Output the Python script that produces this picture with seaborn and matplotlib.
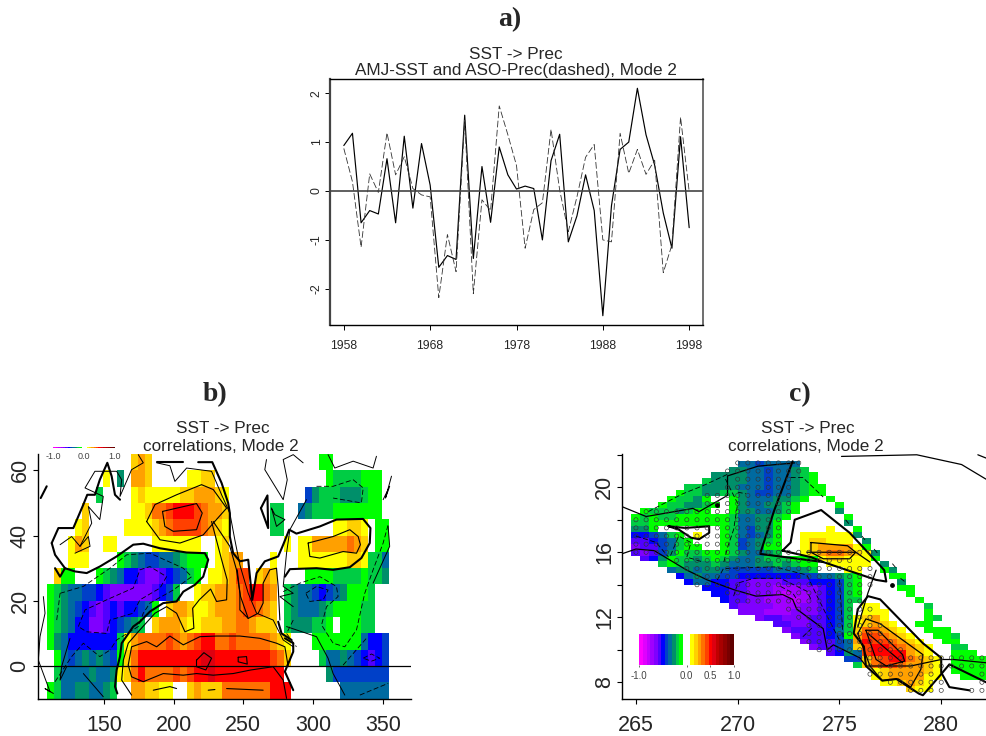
import numpy as np, pandas as pd
import matplotlib
matplotlib.use("Agg")
import matplotlib.pyplot as plt
from matplotlib.colors import ListedColormap
import seaborn as sns

# ---------- panel a ----------
YEARS = list(range(1958, 1999))
SST = [0.93,1.18,-0.65,-0.40,-0.47,0.66,-0.65,1.12,-0.35,0.97,0.12,-1.56,-1.32,-1.40,1.55,-1.38,0.50,-0.64,
       0.90,0.33,0.04,0.10,0.05,-1.0,0.62,1.16,-1.04,-0.51,0.33,-0.40,-2.55,-0.30,0.85,1.0,2.10,1.15,0.53,
       -0.45,-1.17,1.11,-0.75]
PREC = [0.87,0.19,-1.15,0.35,-0.03,1.19,0.33,0.70,0.05,-0.08,-0.12,-2.18,-0.89,-1.65,1.45,-2.10,-0.18,-0.40,
        1.74,1.15,0.52,-1.17,-0.38,-0.24,1.26,0.02,-0.83,-0.12,0.69,0.95,-1.0,-1.04,1.18,0.36,0.85,0.34,0.63,
        -1.67,-1.10,1.51,-0.01]

# ---------- colour levels ----------
LEVEL_COLORS = ["#ff00ff","#e000ff","#c000ff","#a000ff","#8000ff","#5000ff","#0000ff","#0040c8","#006aa0",
                "#008f6a","#00cc44","#00ff00","#ffffff","#ffffff","#ffff00","#ffd000","#ffa000","#ff7000",
                "#ff4000","#ff0000","#dd0010","#c00000","#a80000","#900000","#780000","#600000"]
LEVEL_CODES = {"m":0,"M":1,"n":2,"q":3,"p":4,"v":5,"b":6,"d":7,"t":8,"i":9,"h":10,"g":11,
               "y":14,"Y":15,"o":16,"O":17,"r":18,"R":19,"D":20}

# ---------- panel b: correlation per 5-degree cell, north to south ----------
B_ROWS = [
 [(12,"YoY"),(39,"gg")],
 [(8,"y"),(10,"i"),(12,"ooY"),(20,"yyYY"),(40,"ghhhhggg")],
 [(7,"h"),(12,"yYyyyyyYYooo"),(24,"Yy"),(37,"dihhhiiihgg")],
 [(5,"Y"),(12,"yyYOOrRRRrOooY"),(32,"hh"),(36,"tihhhggggggg")],
 [(4,"yY"),(11,"yyyyYoOrrrrOoYy"),(32,"hh"),(41,"yyYYy"),(47,"gg")],
 [(3,"yoY"),(8,"yy"),(15,"yyyyyyy"),(24,"yY"),(34,"y"),(36,"yyoooooOoY"),(47,"gg")],
 [(3,"yyy"),(10,"ghitddttihggg"),(24,"yYoo"),(32,"y"),(36,"yyyyyyyYYy"),(46,"hht")],
 [(1,"Ygg"),(7,"ghitbbvppvbdthg"),(23,"yyYorr"),(30,"YoY"),(37,"gggghhhhghhi")],
 [(0,"ghittddbvppppppvbdh"),(21,"yYYoooOrRROo"),(34,"hittdbdtigggh")],
 [(0,"ghitdbvpvbvbbdtg"),(17,"YooYyyYoooOrrOoY"),(34,"hitttihgggghh")],
 [(0,"ghitbbppvbdtih"),(15,"YoooYyyYYYooOOoYYY"),(34,"hiiihhg"),(42,"ggghh")],
 [(0,"gitbbbbbbbhy"),(12,"oOOOOrOoOrRROOrOOOOOoYy"),(38,"ggggggg"),(45,"tbbd")],
 [(1,"gtdtititdgY"),(12,"ORRRRRRRRRDDRRRRRRRRrOY"),(39,"httitdbvbd")],
 [(1,"httttittiyY"),(12,"OROOOOrOrRRDRRRRRRRRRR"),(40,"idddddddd")],
 [(0,"ghttiittih"),(12,"ooYYyy"),(20,"YoYYYOOOOOOORRR"),(42,"ttttttt")],
]
B_NCOLS = 49

# ---------- panel c: correlation per fine cell, north to south ----------
C_ROWS = [
 [(12,"ttdtttt")],[(11,"iittdttih")],[(9,"iiiittdttihg")],[(8,"hiiiittdttihg")],
 [(6,"hhiiiitttdttihgg")],[(5,"ghhiihhitddttihg"),(21,"g")],
 [(4,"ghhig"),(11,"gitttiihg"),(22,"g")],[(3,"ghhiihg"),(11,"gittiihg"),(23,"g")],
 [(1,"ghhhihgg"),(11,"giittihg"),(23,"i")],[(0,"ghghhggggg"),(10,"ghttiihg"),(24,"g")],
 [(0,"hhgggggggg"),(10,"ghttiig"),(24,"i")],[(0,"iig"),(10,"ghtdiig"),(22,"y"),(25,"g")],
 [(0,"bbdthg"),(7,"y"),(10,"ghtdtig"),(19,"yyyyyy"),(25,"i")],
 [(0,"vvbdthg"),(10,"ghdtihg"),(19,"yYYyyy"),(26,"i")],
 [(0,"pvvdthgg"),(10,"ghdtigg"),(19,"yYoooo"),(25,"y"),(26,"g")],
 [(0,"vpvdighhggghittih"),(19,"yYoOOoYy"),(27,"i")],
 [(1,"vbighhihghittihhhggg"),(21,"yYYyyy"),(27,"g")],
 [(3,"hghiiihitttiihihgg"),(22,"yyyyy"),(28,"i")],
 [(4,"tiitiitdddddtttih"),(24,"yy"),(28,"g"),(29,"i")],
 [(5,"btittddbbbbbbbddttihg"),(29,"gg")],
 [(6,"bttbbvvppppvvvbbbdhg"),(30,"i")],
 [(8,"bbbvvpppqqqppvbdhg"),(30,"gg")],
 [(9,"bbvvpppqnqqpvbdhg"),(31,"g")],
 [(10,"bvvppqqqnqpvbdhh"),(32,"g")],
 [(11,"vppppqqqppvbdh"),(26,"yy"),(33,"h")],
 [(12,"pppqqqpppvbdh"),(26,"yyy"),(33,"g")],
 [(14,"pvvpppvvbdh"),(25,"yYoy"),(33,"gh")],
 [(16,"vvppvvbdh"),(25,"yYoYy"),(32,"gg")],
 [(17,"pvvvvbth"),(25,"YOOoYy"),(33,"ggg")],
 [(18,"pvvvbdg"),(25,"orrOoYy"),(34,"ggh")],
 [(19,"pvvvdt"),(25,"oRrrOoYy"),(35,"gg")],
 [(20,"pvvdt"),(25,"YrRRrOoYy"),(36,"hh")],
 [(22,"vbi"),(25,"trRRRRoYy"),(36,"ggg")],
 [(24,"dd"),(26,"YOrRROoYy"),(36,"gggg")],
 [(25,"h"),(26,"YOrrOooYy"),(36,"gggg")],
 [(27,"yYooooYy"),(36,"gggg")],
 [(27,"yYooooyy"),(37,"ggg")],
 [(28,"yyYoYy")],
 [(31,"Yyy")],
]
C_NCOLS = 40

# significance circles: latitude, first and last longitude of each run
CIRCLE_RUNS = [(21.5,270,273),(21,269.5,273),(20.5,270,272.5),(20,269.5,272.5),(19.5,268.5,272.5),(19,268.5,272.5),
 (18.5,265.5,272.5),(18,265,272),(17.5,265,272),(17,265,272),(16.5,265,272),(16,265,276.5),(15.5,267,275.5),
 (15,267.5,276.5),(14.5,268,276.5),(14,268,276.5),(13.5,269.5,276),(13,270,276),(12.5,272.5,276.5),(12,273,276.5),
 (11.5,273.5,277),(11,273.5,277),(10.5,273.5,277.5),(10,274,278),(9.5,276,282),(9,276.5,282),(8.5,276.5,279.5),
 (8.5,282,282),(8,277.5,279.5),(8,280,280),(8,282,282),(7.5,278.5,279.5),(7.5,280,280),(7.5,281.5,282)]

# ---------- panel b lines (lon, lat) ----------
B_THICK = [
 [(112.5,37.7),(117.3,42.3),(128,42.3),(135.2,49.5),(138,52.5),(143.5,52.5),(147,57.1),(152.4,62.3),(155.5,58.2),(157.9,52.5),(161.5,51)],
 [(112.5,37.7),(114.9,34.1),(122,30),(129.2,29),(137.6,28.5),(147,30.5),(159.1,33.6),(171,37.2),(178.2,37.5),(190.2,36.1),(209.3,34.8),(222.4,34.6),(224.8,32.6),(221.2,27.4),(215.2,24.9),(206.9,22.8),(202.1,19.8),(192.5,19.3),(183,16.7),(175.8,13.6),(171,12.1),(162.7,7),(161.5,2.9),(159.1,-1.2),(157.9,-6.3),(159.6,-8.4)],
 [(114.9,30),(118.5,27.4),(122,30)],
 [(187.8,62.5),(206.9,62.5)],
 [(217.6,62.5),(227.7,62.5),(234.4,56.1),(239.1,50),(240.3,46.9),(240.3,39.7),(242.7,34.6),(247.5,32.1),(253.5,32.6),(256.4,20.3),(259.5,28.5),(265.4,32.1),(275,33.6),(278.6,37.2),(282.9,41.8),(288.1,40.6),(304.9,42.8),(316.8,44.9),(335.9,45.1),(341.2,42.3),(340.7,37.7),(334.7,33.1),(326.4,30.3),(314.4,29.5),(302.5,30),(283.4,29.7),(279.8,27.4)],
 [(262.6,48.4),(267.3,52.3),(267.8,42.3),(262.6,48.4)],
 [(279.8,8.5),(285.8,7),(285.8,4.4),(279.8,-1.7),(285.8,-7.4)],
 [(275,13.6),(277.4,10),(284.6,8)],
 [(104.6,51.5),(108.9,55.1)],
]
B_SOLID = [
 [(180.6,44.3),(186.6,49.5),(202.1,52.5),(220,55.6),(228.4,54.1),(238,48.4),(228.4,43.8),(221.2,40.2),(204.5,37.7),(190.2,38.7),(180.6,44.3)],
 [(192,47.4),(216.4,49.8),(220.5,46.9),(216.4,41.8),(199.7,41.3),(193.7,42.8),(192,47.4)],
 [(227.2,44.3),(234.4,32.6),(238.4,26.4),(238,20.3),(230.8,19.8),(226.5,23.6),(218.4,20.3),(213.6,17.7),(214.5,11.6),(208.1,10.5),(202.1,16.2),(194.9,18.2),(186.6,16.2),(175.8,11.1),(167.4,7),(163.9,1.8),(162.7,-4.3),(169.8,-8.9)],
 [(228.4,44.3),(240.3,36.7),(245.1,29.5),(248,21.3),(253.5,14.6)],
 [(167.4,0.3),(169.8,5.9),(180.6,7.5),(187.8,5.9),(197.3,9.2),(206.9,6.5),(218.8,9),(230.8,9.2),(247.5,9.2),(261.9,8.5),(273.8,7),(279.8,5.9),(282.2,-0.2)],
 [(167.4,0.3),(169.8,-3.3),(178.2,-4.8),(192.5,-2.3),(206.9,-2.8),(216.4,-2.3),(228.4,-2.8),(242.7,-2.3),(255.4,-1.2),(271.4,-0.2),(278.6,-4.3),(281,-9.9)],
 [(216.4,1.8),(221.7,4.1),(227.2,2.4),(223.1,-1.2),(216.4,-0.2),(216.4,1.8)],
 [(246.3,2.7),(252.3,2.9),(252.8,0.6),(246.3,1.3),(246.3,2.7)],
 [(185.4,-7.4),(197.3,-6.3),(202.1,-6.9)],[(224.8,-7.4),(229.6,-7.2)],[(238,-6.9),(264.2,-7.4)],
 [(245.6,29.5),(247.5,22.3),(247.5,17.2),(253.5,14.6),(260.7,16.2),(264.2,19.3),(264.2,25.4),(269,29.5),(273.8,30),(275,24.4),(276.2,14.1)],
 [(296.5,37.7),(314.4,39.7),(326.4,41.8),(332.4,39.7),(334,37.2),(331.2,34.6),(321.6,35.1),(304.9,33.1),(297.7,33.6),(296.5,37.7)],
]
B_DASHED = [
 [(131.6,12.1),(136.4,17.2),(151.9,20.3),(171,23.9),(175.8,29.5),(183,30.5),(194.9,27.4),(190.2,23.9),(175.8,20.3),(171,16.2),(154.3,14.1),(151.9,10),(137.6,10.5),(131.6,12.1)],
 [(118.5,22.3),(135.2,24.4),(154.3,30),(166.3,34.1),(183,34.6),(206.9,30),(212.9,27.4),(199.7,23.3),(183,19.3),(178.2,16.2),(174.6,12.1),(159.1,8),(154.3,4.9)],
 [(116.1,14.1),(118.5,22.3)],
 [(114.9,-4.8),(126.8,2.9),(135.2,7),(147,2.9),(154.3,4.9)],
 [(278.6,22.8),(290.5,25.4),(304.9,27.4),(316.8,24.4),(318,21.3),(309.7,18.2),(306.1,12.6),(314.4,7),(322.8,5.9),(331.2,11.1),(337.1,22.3),(343.1,29.5),(350.3,37.7),(353.9,43.3)],
 [(294.8,22.3),(302.5,24.4),(310.8,23.3),(307.3,20.3),(297.7,19.8),(294.8,22.3)],
 [(285.8,14.1),(281,10),(288.1,5.9)],
 [(302.5,55.1),(314.4,55.1),(328.8,57.1),(336,54.6),(334.7,50),(314.4,51.5)],
 [(336,2.4),(341.9,3.7),(347.9,2.4),(341.9,1.5),(336,2.4)],
 [(333.6,-8.9),(353.9,-5.3)],
 [(321.6,0.3),(338.3,8.5)],
]
B_COAST = [
 [(118.5,37.2),(126.8,39.7),(132.8,36.7),(141.2,43.8),(138.8,48.9),(147,44.9),(149.5,52),(136.4,54.6),(143.5,59.7),(159.1,59.7),(162.7,57.1),(161.5,52),(169.8,60.2),(178.2,62.3),(174.6,64.8)],
 [(129.2,34.6),(140,36.7),(138.8,39.7),(132.8,36.7)],
 [(187.8,62.3),(197.3,61.4),(200.9,56.6),(209.3,60.7),(227.2,59.7),(234.4,52.5),(240.3,46.9),(243.9,38.7),(247.5,31),(253.5,22.3),(259.5,16.2),(271.4,14.1),(278.6,8),(285.8,5.9)],
 [(266.6,63.3),(265.4,60.2),(278.6,51),(281.5,57.1),(278.6,63.3),(285.8,64.8),(292.9,62.3)],
 [(270.2,48.4),(273.8,42.8),(279.8,44.9),(272.6,46.4),(270.2,48.4)],
 [(295.3,51),(283.4,41.8),(281,34.6),(278.6,24.4),(285.8,22.3),(276.2,21.3),(285.8,18.2)],
 [(310.8,64.8),(315.6,60.7),(328.8,62.8),(343.1,60.7),(345.5,64.3)],
 [(281,12.1),(302.5,9),(310.8,2.4),(314.4,-2.3),(322.8,-8.9)],
 [(353.9,42.8),(355,36.7),(343.1,25.4)],
 [(350.3,51),(355,55.1),(352,51.5),(356.3,58.2)],
 [(106.5,21.3),(107.7,16.2),(104.1,9),(102.9,1.8),(111.3,-7.9),(107.7,-6.9),(113.7,-8.4)],
 [(123.2,-0.2),(118.5,-4.3),(119.6,-0.2),(125.6,8.5)],
 [(135.2,-2.3),(149.5,-9.4)],
]

# ---------- panel c lines (lon, lat) ----------
C_THICK = [
 [(272.2,16.1),(272.6,16.6),(272.8,18),(274.1,18.6),(275.5,17.2),(277.2,14.9),(277.3,14.2),(276.8,14.3),(274.2,15.4),(273.6,15.7),(272.2,16.1)],
 [(272.7,21.6),(271.8,18.6),(271.1,15.9),(274.2,15.4)],
 [(275.9,12.5),(276.4,13.3),(277,13.1),(279.1,10.4),(280,9.5),(280,8.6),(280.4,7.7),(281.4,7.5)],
 [(275.9,12.5),(275.7,11),(276.2,10.2),(276.3,9),(277.1,8.1),(277.8,8.2),(278.9,7.3),(279.1,7.2),(280,8.5),(280.4,9.1),(282.2,8)],
 [(266.6,17.6),(267.4,17.5),(268.6,17.6),(268.6,17.2),(268.1,16.8),(267.7,16.9),(267.1,17.4),(266.6,17.6)],
]
C_SOLID = [
 [(264.33,18.8),(265.5,18.2),(267.8,18.7),(268.1,18.5),(269.5,19.5),(269.5,20.7),(271,21.3),(272.8,21.5)],
 [(264.3,15.9),(265,16.2),(265.9,16.1),(266.7,15.5),(267.5,14.9),(268.5,14.3),(269.8,13.7),(270.9,13.3),(272.2,13.4),(272.7,13.1),(272.9,12.5),(274.2,11.3),(274.4,10),(274.7,10.3),(276,9.5),(276.3,9),(278.5,9),(280,9.4),(280.6,9.4),(282.2,9.2)],
 [(275.1,21.9),(278.8,22),(281,21.4),(282.2,20.5)],
 [(281.8,22),(282.2,21.8)],
 [(276.8,14.9),(276.4,13.5),(275.9,11.4)],
 [(273.6,16.6),(275.4,16.4),(275.8,16),(275.5,15.6),(274.2,15.6),(273.6,16),(273.6,16.6)],
 [(273.4,16),(275.8,16),(276.5,15.4)],
 [(275.9,11),(276.3,11.9),(277,11.6),(279.1,9.7),(279,8.8),(278.5,7.7),(277.9,8.2),(277.1,8.1),(276.5,9),(275.9,11)],
 [(276.3,11.2),(276.9,11.2),(278.1,9.7),(278.2,9.3),(277.3,9),(276.8,9.4),(276.3,11.2)],
 [(276.4,11),(278.1,9.2)],
]
C_DASHED = [
 [(265.6,18.5),(267.3,19.6),(268.3,20.1),(269.5,20.8)],
 [(272.6,20.6),(273.2,20.6),(274.2,19.4)],
 [(269.4,20.5),(270,19),(269.8,17.4),(269.5,16.3),(269.3,15.3)],
 [(269,14.3),(269.3,15),(271.8,15.1),(273.4,14.6),(273.9,13.3),(274.5,11.8),(275,10.6)],
 [(269.8,13.3),(270,14.1),(270.8,14.4),(272.1,14.4),(273.4,13.6),(273.6,13.1)],
 [(272.1,13.9),(272.7,13.5),(272.9,13.1)],
 [(273.2,10.8),(273.7,11.4)],
 [(275,14.3),(275.1,12.3),(275.2,10.4)],
 [(266.7,15.8),(267.1,17),(267.7,16.6),(267.5,15.7),(268.3,15.4)],
 [(265,17),(266,16.6),(266.6,15.7)],
 [(270,19.7),(270.4,19.6)],
 [(275.3,18),(275.5,17.7)],[(276.1,17),(276.3,16.7)],[(276.7,16.2),(276.9,15.9)],[(277.6,15.3),(277.8,15)],[(278,14.4),(278.2,14.2)],
]
C_DOTS = [(277.6,14),(269,18.9)]

TICKS_A_X = [1958,1968,1978,1988,1998]
TICKS_A_Y = [-2,-1,0,1,2]
TICKS_B_X = [150,200,250,300,350]
TICKS_B_Y = [0,20,40,60]
TICKS_C_X = [265,270,275,280]
TICKS_C_Y = [8,10,12,14,16,18,20,22]
LABELS_C_Y = ["8","","12","","16","","20",""]

# ---------- build ----------
W, H = 986, 736
sns.set_style("white")
plt.rcParams["font.family"] = ["Liberation Sans", "DejaVu Sans"]
plt.rcParams["xtick.direction"] = "out"
plt.rcParams["ytick.direction"] = "out"
plt.rcParams["axes.unicode_minus"] = False
cmap = ListedColormap(LEVEL_COLORS)
nlev = len(LEVEL_COLORS)

def px_axes(l, t, r, b):
    return fig.add_axes([l/W, 1-b/H, (r-l)/W, (b-t)/H])

def decode(rows, ncols):
    arr = np.full((len(rows), ncols), np.nan)
    for i, runs in enumerate(rows):
        for start, s in runs:
            for j, ch in enumerate(s):
                if start+j < ncols:
                    arr[i, start+j] = -1 + (LEVEL_CODES[ch]+0.5)*2/nlev
    return arr

def style(ax, spines, width=1.0):
    for name, sp in ax.spines.items():
        sp.set_visible(name in spines)
        sp.set_color("black"); sp.set_linewidth(width)
    ax.set_xlabel(""); ax.set_ylabel("")

fig = plt.figure(figsize=(W/100, H/100), dpi=100)

# panel a
axa = px_axes(330, 79, 703, 325)
sns.lineplot(x=YEARS, y=SST, ax=axa, color="black", lw=0.85)
sns.lineplot(x=YEARS, y=PREC, ax=axa, color="#333333", lw=0.6, linestyle=(0, (8, 3)))
axa.axhline(0, color="#444444", lw=1.2)
axa.set_xlim(1956.4, 1999.6); axa.set_ylim(-2.74, 2.29)
axa.set_xticks(TICKS_A_X); axa.set_yticks(TICKS_A_Y)
axa.tick_params(axis="x", labelsize=8.7, length=3.6, width=0.7, color="black", bottom=True, pad=7)
axa.tick_params(axis="y", labelsize=8.7, length=3.6, width=0.7, color="black", left=True, labelrotation=90, pad=1.5)
for t in axa.get_yticklabels(): t.set_va("center")
style(axa, ["left","right","top","bottom"])
axa.spines["left"].set_linewidth(1.6); axa.spines["left"].set_color("#444444")
axa.spines["right"].set_linewidth(1.2); axa.spines["right"].set_color("#555555")

def heat_panel(rows, ncols, box, lon0, dlon, lat0, dlat, xlim, ylim):
    ax = px_axes(*box)
    df = pd.DataFrame(decode(rows, ncols))
    sns.heatmap(df, ax=ax, cmap=cmap, vmin=-1, vmax=1, cbar=False, xticklabels=False, yticklabels=False)
    fx = lambda v: (np.asarray(v, float)-lon0)/dlon
    fy = lambda v: (lat0-np.asarray(v, float))/dlat
    ax.set_xlim(fx(xlim[0]), fx(xlim[1])); ax.set_ylim(fy(ylim[0]), fy(ylim[1]))
    return ax, fx, fy

def draw(ax, fx, fy, lines, **kw):
    for ln in lines:
        a = np.array(ln)
        ax.plot(fx(a[:,0]), fy(a[:,1]), color="black", solid_joinstyle="round", **kw)

def finish(ax, fx, fy, xt, yt, ylab=None):
    ax.set_xticks(fx(xt)); ax.set_xticklabels([str(v) for v in xt])
    ax.set_yticks(fy(yt)); ax.set_yticklabels(ylab if ylab else [str(v) for v in yt])
    ax.tick_params(axis="x", labelsize=15.5, length=3.6, width=0.8, color="black", bottom=True, pad=8, labelrotation=0)
    ax.tick_params(axis="y", labelsize=15.5, length=3.6, width=0.8, color="black", left=True, labelrotation=90, pad=1.5)
    for t in ax.get_yticklabels(): t.set_va("center")
    style(ax, ["left","bottom"], 1.0)

# panel b
axb, fxb, fyb = heat_panel(B_ROWS, B_NCOLS, (37.5, 454, 411, 699), 109.4, 5, 65, 5, (102.3, 370.3), (-10.1, 65))
draw(axb, fxb, fyb, B_COAST, lw=0.7)
draw(axb, fxb, fyb, B_SOLID, lw=0.8)
draw(axb, fxb, fyb, B_DASHED, lw=0.6, linestyle=(0,(6,3)))
draw(axb, fxb, fyb, B_THICK, lw=1.5)
axb.axhline(fyb(0), color="black", lw=0.9)
finish(axb, fxb, fyb, TICKS_B_X, TICKS_B_Y)

# panel c
axc, fxc, fyc = heat_panel(C_ROWS, C_NCOLS, (622.3, 454.3, 986, 699.3), 264.77, 0.436, 21.64, 0.365, (264.33, 282.2), (6.95, 22.03))
clon, clat = [], []
for lat, a, b in CIRCLE_RUNS:
    for lon in np.arange(a, b+0.01, 0.5):
        clon.append(lon); clat.append(lat)
sns.scatterplot(x=fxc(clon), y=fyc(clat), ax=axc, s=9, facecolor="none", edgecolor="#333333", linewidth=0.45, zorder=3)
draw(axc, fxc, fyc, C_SOLID, lw=0.9)
draw(axc, fxc, fyc, C_DASHED, lw=0.6, linestyle=(0,(6,3)))
draw(axc, fxc, fyc, C_THICK, lw=1.5)
d = np.array(C_DOTS)
axc.scatter(fxc(d[:,0]), fyc(d[:,1]), s=6, color="black", zorder=4)
finish(axc, fxc, fyc, TICKS_C_X, TICKS_C_Y, LABELS_C_Y)

# colour keys
LEVELS = np.linspace(-1, 1, nlev+1)[:-1] + 1/nlev
def key(box, size, labels, tl):
    ax = px_axes(*box)
    sns.heatmap(pd.DataFrame([LEVELS]), ax=ax, cmap=cmap, vmin=-1, vmax=1, cbar=False, xticklabels=False, yticklabels=False)
    pos = [(v+1)/2*nlev for v in labels]
    ax.set_xticks(pos); ax.set_xticklabels([f"{v:.1f}" for v in labels])
    ax.tick_params(axis="x", labelsize=size, length=tl, width=0.5, color="#333333", bottom=True, labelcolor="#444444", pad=3)
    ax.set_xlabel(""); ax.set_ylabel("")
    ax.set_zorder(5)
key((53.4, 446.8, 115, 448.2), 6.5, [-1.0, 0.0, 1.0], 0)
key((639.3, 634, 734, 665), 7, [-1.0, 0.0, 0.5, 1.0], 1.5)

# titles
def txt(x, y, s, **kw):
    fig.text(x/W, 1-y/H, s, ha="center", va="center", **kw)
for x, l in [(510, "a)"), (215, "b)"), (800, "c)")]:
    txt(x, 20 if l == "a)" else 395, l, fontsize=20, fontweight="bold", family=["Liberation Serif"])
txt(516, 54.5, "SST -> Prec", fontsize=12.3)
txt(516, 71, "AMJ-SST and ASO-Prec(dashed), Mode 2", fontsize=12.3)
txt(223, 429, "SST -> Prec", fontsize=12.3)
txt(221, 446.5, "correlations, Mode 2", fontsize=12.3)
txt(808, 429, "SST -> Prec", fontsize=12.3)
txt(806, 446.5, "correlations, Mode 2", fontsize=12.3)

fig.savefig("out.png", dpi=100)
